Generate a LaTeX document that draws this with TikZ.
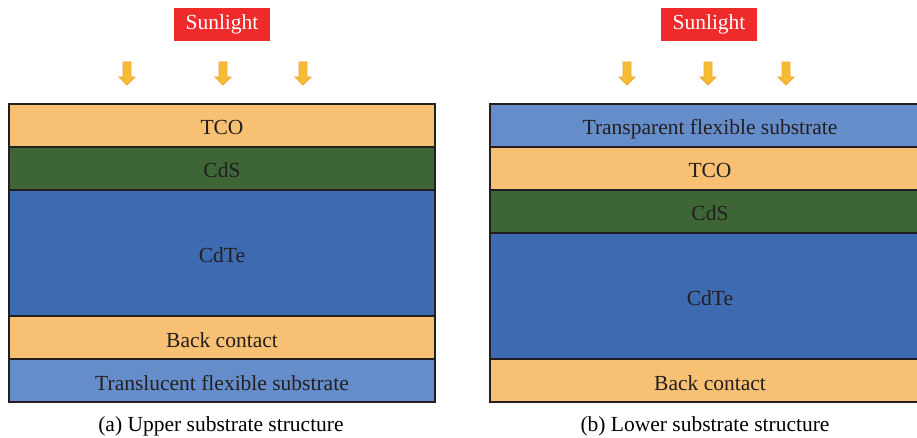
\documentclass[tikz,border=0pt]{standalone}
\usepackage{fontspec}
\setmainfont{Liberation Serif}
\usepackage{tikz}
\usetikzlibrary{calc}
\definecolor{tcoorange}{HTML}{F8C073}
\definecolor{cdsgreen}{HTML}{3E6536}
\definecolor{cdteblue}{HTML}{3D6BB1}
\definecolor{subblue}{HTML}{658DC9}
\definecolor{sunred}{HTML}{EE2A2B}
\definecolor{edge}{HTML}{231F20}
\definecolor{rayfill}{HTML}{F4BC33}
\definecolor{raydraw}{HTML}{F7A531}
\tikzstyle{layer}=[rectangle,draw=edge,line width=2pt,anchor=north west,inner sep=0pt,text=edge,minimum height=43pt,text height=19pt,text depth=0pt]
\tikzstyle{tco}=[layer,fill=tcoorange]
\tikzstyle{cds}=[layer,fill=cdsgreen]
\tikzstyle{cdte}=[layer,fill=cdteblue,minimum height=126pt]
\tikzstyle{subs}=[layer,fill=subblue]
\tikzstyle{sun}=[rectangle,fill=sunred,text=white,minimum width=96pt,minimum height=33pt,inner sep=0pt]
\tikzstyle{ray}=[fill=rayfill,draw=raydraw,line width=0.8pt]
\tikzstyle{caption}=[inner sep=0pt]

\begin{document}
\begin{tikzpicture}[x=1pt,y=-1pt,font=\fontsize{21.5}{24}\selectfont]
	\useasboundingbox (0,0) rectangle (917,438);
	\def \wa {426pt};
	\def \wb {440pt};

	% upper substrate stack
	\node[tco,minimum width=\wa] (tcoa) at (8,103) {TCO};
	\node[cds,minimum width=\wa] (cdsa) at (8,146) {CdS};
	\node[cdte,minimum width=\wa] (cdtea) at (8,189) {CdTe};
	\node[tco,minimum width=\wa] (backa) at (8,315) {Back contact};
	\node[subs,minimum width=\wa] (suba) at (8,358) {Translucent flexible substrate};

	% lower substrate stack
	\node[subs,minimum width=\wb] (subb) at (489,103) {Transparent flexible substrate};
	\node[tco,minimum width=\wb] (tcob) at (489,146) {TCO};
	\node[cds,minimum width=\wb] (cdsb) at (489,189) {CdS};
	\node[cdte,minimum width=\wb] (cdteb) at (489,232) {CdTe};
	\node[tco,minimum width=\wb] (backb) at (489,358) {Back contact};

	% light source
	\node[sun] (suna) at (222,24.5) {Sunlight};
	\node[sun] (sunb) at (709,24.5) {Sunlight};

	\foreach \c in {127,223,303,627,708,786}
		\draw[ray] (\c-4,62) -- (\c+4,62) -- (\c+4,77) -- (\c+8,77) -- (\c,85) -- (\c-8,77) -- (\c-4,77) -- cycle;

	\node[caption] (capa) at (221,426) {(a) Upper substrate structure};
	\node[caption] (capb) at (705,426) {(b) Lower substrate structure};
\end{tikzpicture}
\end{document}
